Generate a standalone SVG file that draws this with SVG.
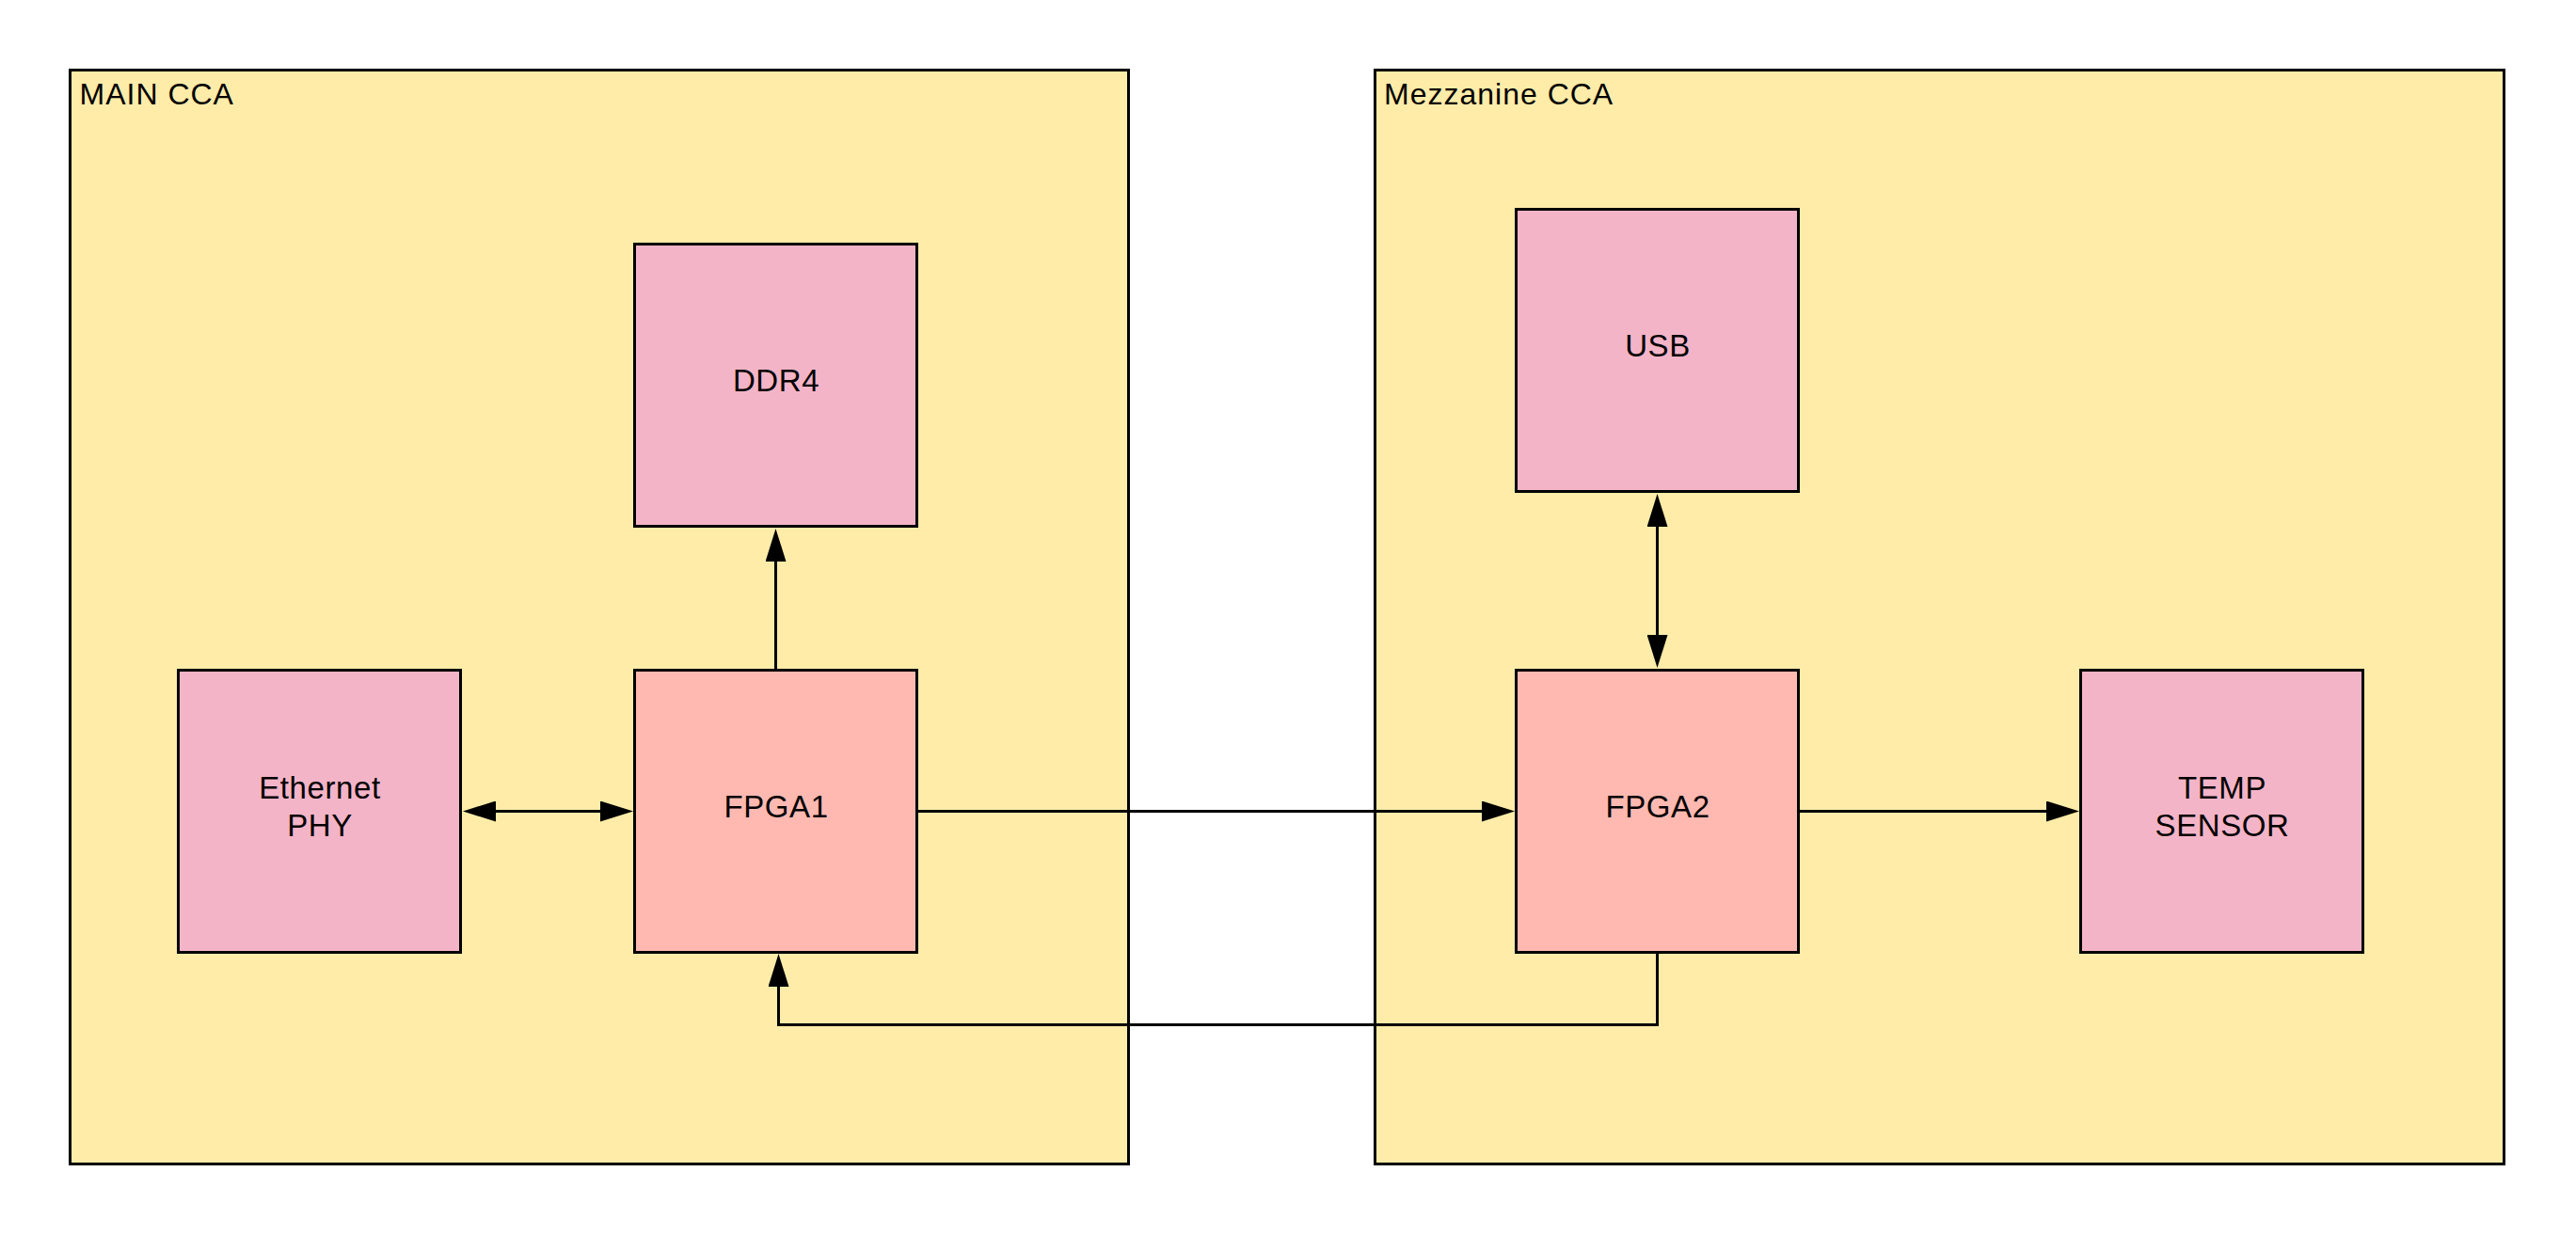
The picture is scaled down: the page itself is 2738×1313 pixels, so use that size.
<svg xmlns="http://www.w3.org/2000/svg" width="2738" height="1313" viewBox="0 0 2738 1313">
<style>
.cont{fill:#FFECA9;stroke:#000;stroke-width:3}
.blk{fill:#F4B4C7;stroke:#000;stroke-width:3}
.fpga{fill:#FFB9B1;stroke:#000;stroke-width:3}
.hdr{font-family:"Liberation Sans",Arial,sans-serif;font-size:32px;letter-spacing:1px;fill:#000}
.lbl{font-family:"Liberation Sans",Arial,sans-serif;font-size:33px;letter-spacing:0.6px;fill:#000;text-anchor:middle}
.edge{fill:none;stroke:#000;stroke-width:3}
</style>
<defs>
<marker id="arr" markerUnits="userSpaceOnUse" viewBox="0 0 35 22" markerWidth="35" markerHeight="22" refX="0" refY="11" orient="auto-start-reverse">
<path d="M0,0 L35,11 L0,22 z" fill="#000"/>
</marker>
</defs>
<rect width="2738" height="1313" fill="#fff"/>
<g id="main-cca">
<rect class="cont" x="74.5" y="74.5" width="1125" height="1163"/>
<text class="hdr" x="84.5" y="111">MAIN CCA</text>
</g>
<g id="mezzanine-cca">
<rect class="cont" x="1461.5" y="74.5" width="1200" height="1163"/>
<text class="hdr" x="1471" y="111">Mezzanine CCA</text>
</g>
<g id="ddr4">
<rect class="blk" x="674.5" y="259.5" width="300" height="300"/>
<text class="lbl" x="825" y="416">DDR4</text>
</g>
<g id="ethernet-phy">
<rect class="blk" x="189.5" y="712.5" width="300" height="300"/>
<text class="lbl" x="340" y="849">Ethernet</text>
<text class="lbl" x="340" y="889">PHY</text>
</g>
<g id="fpga1">
<rect class="fpga" x="674.5" y="712.5" width="300" height="300"/>
<text class="lbl" x="825" y="869">FPGA1</text>
</g>
<g id="usb">
<rect class="blk" x="1611.5" y="222.5" width="300" height="300"/>
<text class="lbl" x="1762" y="379">USB</text>
</g>
<g id="fpga2">
<rect class="fpga" x="1611.5" y="712.5" width="300" height="300"/>
<text class="lbl" x="1762" y="869">FPGA2</text>
</g>
<g id="temp-sensor">
<rect class="blk" x="2211.5" y="712.5" width="300" height="300"/>
<text class="lbl" x="2362" y="849">TEMP</text>
<text class="lbl" x="2362" y="889">SENSOR</text>
</g>
<g id="connectors">
<path class="edge" d="M527,862.5 L638,862.5" marker-start="url(#arr)" marker-end="url(#arr)"/>
<path class="edge" d="M824.5,712 L824.5,597" marker-end="url(#arr)"/>
<path class="edge" d="M975,862.5 L1575,862.5" marker-end="url(#arr)"/>
<path class="edge" d="M1761.5,560 L1761.5,675" marker-start="url(#arr)" marker-end="url(#arr)"/>
<path class="edge" d="M1912,862.5 L2175,862.5" marker-end="url(#arr)"/>
<path class="edge" d="M1761.5,1013 L1761.5,1089.5 L827.5,1089.5 L827.5,1049" marker-end="url(#arr)"/>
</g>
</svg>
